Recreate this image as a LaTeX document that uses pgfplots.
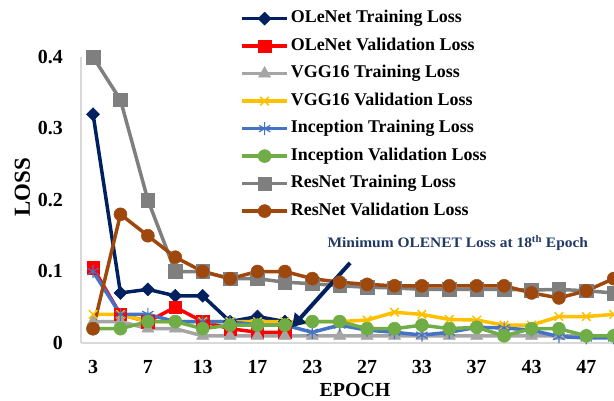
\documentclass[border=0pt]{standalone}
\usepackage{fontspec}
\setmainfont{Liberation Serif}
\newfontfamily\annfont[FakeStretch=1.07]{Liberation Serif}
\usepackage{pgfplots}
\pgfplotsset{compat=1.18}
\usetikzlibrary{arrows.meta}
\definecolor{navyc}{HTML}{002060}
\definecolor{redc}{HTML}{FF0000}
\definecolor{lgray}{HTML}{A5A5A5}
\definecolor{yellowc}{HTML}{FFC000}
\definecolor{bluec}{HTML}{4472C4}
\definecolor{greenc}{HTML}{70AD47}
\definecolor{dgray}{HTML}{7F7F7F}
\definecolor{brownc}{HTML}{9E480E}
\definecolor{axisgray}{HTML}{D9D9D9}
\definecolor{annot}{HTML}{203864}
\begin{document}
\begin{tikzpicture}
\begin{axis}[
  at={(81bp,58bp)}, anchor=south west,
  scale only axis, width=533bp, height=286bp,
  xmin=-0.44, xmax=19.01, ymin=0, ymax=0.4,
  axis x line=bottom, axis y line=left,
  axis line style={-, draw=axisgray, line width=1.2bp},
  xtick={0,2,...,18}, xticklabels={3,7,13,17,23,27,33,37,43,47},
  ytick={0,0.1,0.2,0.3,0.4}, yticklabels={0,0.1,0.2,0.3,0.4},
  major tick length=0pt,
  /pgf/number format/assume math mode=true,
  tick label style={font=\fontsize{20}{24}\selectfont\bfseries, inner sep=0pt},
  xticklabel style={anchor=north, yshift=-17bp},
  yticklabel style={anchor=east, xshift=-18bp},
  xlabel={EPOCH},
  xlabel style={at={(axis description cs:0.514,-0.188)}, anchor=base, font=\fontsize{20}{24}\selectfont\bfseries},
  ylabel={LOSS},
  ylabel style={at={(axis description cs:-0.0957,0.545)}, anchor=base, font=\fontsize{23}{27}\selectfont\bfseries},
  legend cell align=left,
  legend style={at={(axis description cs:0.293,1.169)}, anchor=north west, draw=none, fill=none,
    font=\fontsize{18}{21}\selectfont\bfseries, row sep=12bp, column sep=2bp,
    nodes={inner sep=0pt, text height=12bp, text depth=3.5bp}},
  legend image code/.code={\draw[mark repeat=2,mark phase=2] plot coordinates {(0bp,0bp) (22.5bp,0bp) (45bp,0bp)};},
  every axis plot/.append style={line width=3.5bp},
]
\addplot[color=navyc, mark=square*, mark size=4.6bp, mark options={rotate=45, line width=0.5bp, fill=navyc}]
 coordinates {(0,0.32)(1,0.07)(2,0.075)(3,0.066)(4,0.066)(5,0.03)(6,0.037)(7,0.03)};
\addlegendentry{OLeNet Training Loss}
\addplot[color=redc, mark=square*, mark size=6.2bp, mark options={line width=0.5bp, fill=redc}]
 coordinates {(0,0.105)(1,0.04)(2,0.03)(3,0.05)(4,0.03)(5,0.02)(6,0.015)(7,0.015)};
\addlegendentry{OLeNet Validation Loss}
\addplot[color=lgray, mark=triangle*, mark size=7bp, mark options={line width=0.5bp, fill=lgray}]
 coordinates {(0,0.03)(1,0.03)(2,0.02)(3,0.02)(4,0.01)(5,0.01)(6,0.01)(7,0.01)(8,0.01)(9,0.01)(10,0.01)(11,0.01)(12,0.01)(13,0.01)(14,0.01)(15,0.01)(16,0.01)(17,0.01)(18,0.01)(19,0.01)};
\addlegendentry{VGG16 Training Loss}
\addplot[color=yellowc, mark=x, mark size=6bp, mark options={line width=1.5bp}]
 coordinates {(0,0.04)(1,0.04)(2,0.03)(3,0.03)(4,0.03)(5,0.03)(6,0.03)(7,0.03)(8,0.03)(9,0.03)(10,0.032)(11,0.043)(12,0.04)(13,0.033)(14,0.032)(15,0.025)(16,0.025)(17,0.037)(18,0.037)(19,0.04)};
\addlegendentry{VGG16 Validation Loss}
\addplot[color=bluec, mark=asterisk, mark size=6.5bp, mark options={line width=1.2bp}]
 coordinates {(0,0.1)(1,0.04)(2,0.04)(3,0.03)(4,0.03)(5,0.03)(6,0.025)(7,0.025)(8,0.015)(9,0.025)(10,0.018)(11,0.015)(12,0.011)(13,0.015)(14,0.022)(15,0.021)(16,0.018)(17,0.009)(18,0.007)(19,0.007)};
\addlegendentry{Inception Training Loss}
\addplot[color=greenc, mark=*, mark size=6.5bp, mark options={line width=0.5bp, fill=greenc}]
 coordinates {(0,0.02)(1,0.02)(2,0.03)(3,0.03)(4,0.02)(5,0.025)(6,0.025)(7,0.025)(8,0.03)(9,0.03)(10,0.02)(11,0.02)(12,0.025)(13,0.02)(14,0.022)(15,0.01)(16,0.02)(17,0.02)(18,0.01)(19,0.01)};
\addlegendentry{Inception Validation Loss}
\addplot[color=dgray, mark=square*, mark size=6.8bp, mark options={line width=0.5bp, fill=dgray}]
 coordinates {(0,0.4)(1,0.34)(2,0.2)(3,0.1)(4,0.1)(5,0.09)(6,0.09)(7,0.085)(8,0.083)(9,0.08)(10,0.078)(11,0.077)(12,0.075)(13,0.075)(14,0.075)(15,0.075)(16,0.074)(17,0.075)(18,0.073)(19,0.07)};
\addlegendentry{ResNet Training Loss}
\addplot[color=brownc, mark=*, mark size=6.5bp, mark options={line width=0.5bp, fill=brownc}]
 coordinates {(0,0.02)(1,0.18)(2,0.15)(3,0.12)(4,0.1)(5,0.09)(6,0.1)(7,0.1)(8,0.09)(9,0.085)(10,0.082)(11,0.08)(12,0.08)(13,0.08)(14,0.08)(15,0.08)(16,0.07)(17,0.063)(18,0.073)(19,0.09)};
\addlegendentry{ResNet Validation Loss}
\node[font=\annfont\fontsize{14.5}{17}\selectfont\bfseries, text=annot] at (rel axis cs:0.707,0.35) {Minimum OLENET Loss at 18\textsuperscript{th} Epoch};
\draw[line width=4bp, color=navyc, -{Triangle[length=13bp,width=15bp]}] (axis cs:9.38,0.112) -- (axis cs:7.26,0.022);
\end{axis}
\pgfresetboundingbox
\path (0,0) rectangle (614bp,401bp);
\end{tikzpicture}
\end{document}
